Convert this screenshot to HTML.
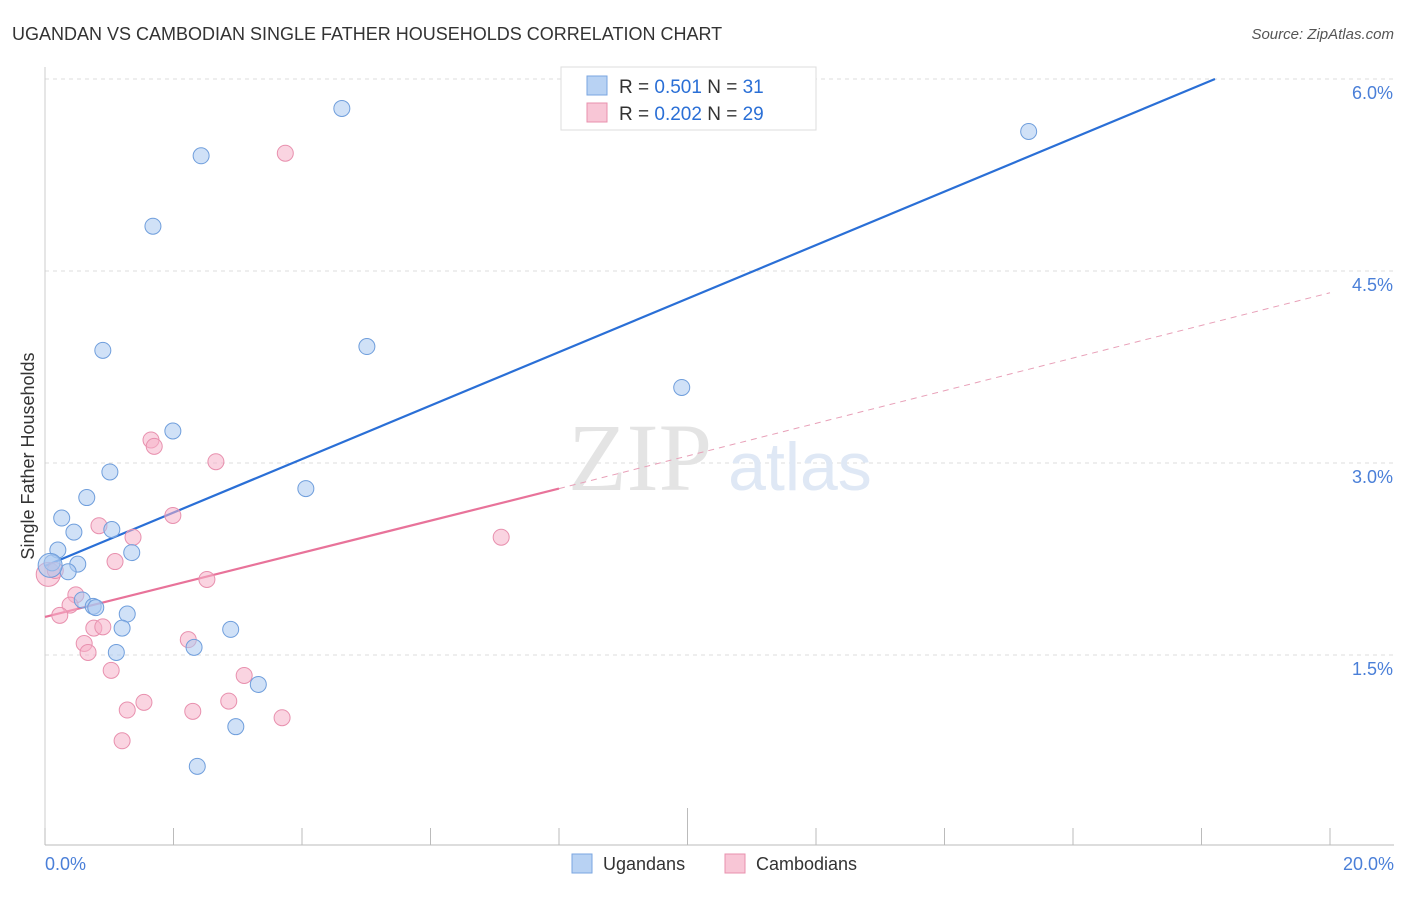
<!DOCTYPE html>
<html><head><meta charset="utf-8"><style>
body{margin:0;background:#fff;font-family:"Liberation Sans",sans-serif;}
</style></head><body>
<svg id="chart" width="1406" height="892" viewBox="0 0 1406 892" xmlns="http://www.w3.org/2000/svg">
<text x="12" y="40" font-size="18" fill="#333">UGANDAN VS CAMBODIAN SINGLE FATHER HOUSEHOLDS CORRELATION CHART</text>
<text x="1394" y="39" font-size="15" fill="#555" font-style="italic" text-anchor="end">Source: ZipAtlas.com</text>
<g id="grid"></g>
<text x="640" y="490" font-size="96" fill="#e4e4e4" font-family="Liberation Serif,serif" text-anchor="middle">ZIP</text>
<text x="800" y="490" font-size="68" fill="#dfe8f5" text-anchor="middle">atlas</text>
<text transform="translate(34,456) rotate(-90)" font-size="18" fill="#333" text-anchor="middle">Single Father Households</text>
<g id="lines"></g>
<g id="pts"></g>
<g>
<rect x="561" y="67" width="255" height="63" fill="#fff" stroke="#ddd"/>
<rect x="587" y="76" width="20" height="19" fill="#b8d2f3" stroke="#7aa6e0"/>
<rect x="587" y="103" width="20" height="19" fill="#f8c6d6" stroke="#e890ae"/>
<text x="619" y="93" font-size="19" fill="#333">R = <tspan fill="#2a6fd6">0.501</tspan>   N = <tspan fill="#2a6fd6">31</tspan></text>
<text x="619" y="120" font-size="19" fill="#333">R = <tspan fill="#2a6fd6">0.202</tspan>   N = <tspan fill="#2a6fd6">29</tspan></text>
</g>
<g>
<rect x="572" y="854" width="20" height="19" fill="#b8d2f3" stroke="#7aa6e0"/>
<text x="603" y="870" font-size="18" fill="#333">Ugandans</text>
<rect x="725" y="854" width="20" height="19" fill="#f8c6d6" stroke="#e890ae"/>
<text x="756" y="870" font-size="18" fill="#333">Cambodians</text>
</g>
</svg>
<script>
const yTicks=[1.5,3.0,4.5,6.0];
const yTickLabels=["1.5%","3.0%","4.5%","6.0%"];
const xTickLabels=["0.0%","20.0%"];
const blueX=[4.62,2.43,1.68,15.31,0.90,5.01,9.91,1.99,1.01,0.65,4.06,0.26,0.45,1.04,1.35,0.20,0.11,0.51,0.36,0.58,0.75,0.79,1.28,1.20,2.89,2.32,1.11,3.32,2.97,2.37,0.08];
const blueY=[5.77,5.40,4.85,5.59,3.88,3.91,3.59,3.25,2.93,2.73,2.80,2.57,2.46,2.48,2.30,2.32,2.22,2.21,2.15,1.93,1.88,1.87,1.82,1.71,1.70,1.56,1.52,1.27,0.94,0.63,2.20];
const pinkX=[3.74,1.65,1.70,2.66,1.99,0.84,1.37,7.10,1.09,0.05,0.16,2.52,0.48,0.39,0.23,0.76,0.90,0.61,0.67,2.23,1.03,3.10,1.54,1.28,2.86,2.30,3.69,1.20];
const pinkY=[5.42,3.18,3.13,3.01,2.59,2.51,2.42,2.42,2.23,2.13,2.16,2.09,1.97,1.89,1.81,1.71,1.72,1.59,1.52,1.62,1.38,1.34,1.13,1.07,1.14,1.06,1.01,0.83];
const blueLine=[[0,2.195],[18.21,6.0]];
const pinkSolid=[[0,1.797],[8.0,2.80]];
const pinkDash=[[8.0,2.80],[20,4.33]];
const X=v=>45+v/20*1285, Y=v=>847-v*128;
const NS="http://www.w3.org/2000/svg";
function mk(tag,attrs,parent){const e=document.createElementNS(NS,tag);for(const k in attrs)e.setAttribute(k,attrs[k]);parent.appendChild(e);return e;}
const svg=document.getElementById('chart'),grid=document.getElementById('grid');
yTicks.forEach((t,i)=>{
 const l=mk('line',{x1:45,x2:1394,y1:Y(t),y2:Y(t),stroke:'#ddd','stroke-dasharray':'4,4'},grid);
 
 
 const tx=mk('text',{x:1393,y:Y(t)+20,'font-size':18,fill:'#4a7fd8','text-anchor':'end'},grid);
 tx.textContent=yTickLabels[i];
 
 
});
const ax=mk('line',{x1:45,x2:1394,y1:845,y2:845,stroke:'#bbb'},grid);


const ay=mk('line',{x1:45,x2:45,y1:67,y2:845,stroke:'#ccc'},grid);


for(let i=0;i<=10;i++){
 const x=X(i*2);
 const t=mk('line',{x1:x,x2:x,y1:i==5?808:828,y2:845,stroke:'#bbb'},grid);
 
 
}
[[0,xTickLabels[0],'start',45],[20,xTickLabels[1],'end',1394]].forEach(a=>{
 const t=mk('text',{x:a[3],y:870,'font-size':18,fill:'#4a7fd8','text-anchor':a[2]},grid);
 t.textContent=a[1];
 
 
});
const pts=document.getElementById('pts');
function dots(xs,ys,fill,stroke,name){xs.forEach((v,i)=>{
 const big=(v<0.1);
 const c=mk('circle',{cx:X(v),cy:Y(ys[i]),r:big?12:8,fill:fill,'fill-opacity':0.55,stroke:stroke,'stroke-width':1},pts);
 
 
});}
dots(pinkX,pinkY,'#f5b0c8','#e890ae','cambodian-point');
dots(blueX,blueY,'#a9c8f0','#6f9edc','ugandan-point');
const lines=document.getElementById('lines');
function ln(p,color,dash,name){
 const l=mk('line',{x1:X(p[0][0]),y1:Y(p[0][1]),x2:X(p[1][0]),y2:Y(p[1][1]),stroke:color,'stroke-width':dash?1:2.2},lines);
 if(dash)l.setAttribute('stroke-dasharray','6,5');
 
 
}
ln(pinkDash,'#e8a0b8',true,'cambodian-trend-extension');
ln(pinkSolid,'#e8739a',false,'cambodian-trend-line');
ln(blueLine,'#2a6fd6',false,'ugandan-trend-line');
svg.appendChild(pts);
</script>
</body></html>
